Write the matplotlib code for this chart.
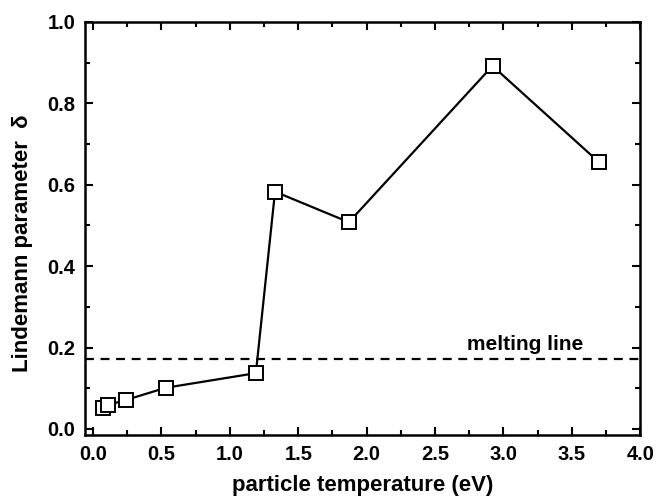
import matplotlib
matplotlib.use("Agg")
import matplotlib.pyplot as plt
from matplotlib.ticker import MultipleLocator

# particle temperature (eV) and Lindemann parameter
temperature = [0.07, 0.11, 0.24, 0.53, 1.19, 1.33, 1.87, 2.92, 3.70]
delta = [0.051, 0.059, 0.071, 0.101, 0.137, 0.583, 0.508, 0.892, 0.655]
melting_delta = 0.172

plt.rcParams["font.family"] = ["Liberation Sans", "DejaVu Sans"]
plt.rcParams["font.weight"] = "bold"

fig = plt.figure(figsize=(6.58, 5.0), dpi=100)
ax = fig.add_axes([0.129, 0.13, 0.844, 0.826])

ax.axhline(melting_delta, color="black", lw=1.6, ls=(0, (4, 3)))
ax.text(3.16, melting_delta + 0.012, "melting line", ha="center", va="bottom",
        fontsize=15, fontweight="bold")

ax.plot(temperature, delta, color="black", lw=1.6, marker="s", ms=9.5,
        mfc="white", mec="black", mew=1.4)

ax.set_xlim(-0.06, 4.0)
ax.set_ylim(-0.015, 1.0)
ax.xaxis.set_major_locator(MultipleLocator(0.5))
ax.xaxis.set_minor_locator(MultipleLocator(0.25))
ax.yaxis.set_major_locator(MultipleLocator(0.2))
ax.yaxis.set_minor_locator(MultipleLocator(0.1))
ax.xaxis.set_major_formatter(lambda v, p: f"{v:.1f}")
ax.yaxis.set_major_formatter(lambda v, p: f"{v:.1f}")

ax.tick_params(which="both", direction="in", top=True, right=True, width=1.5,
               labelsize=14.5)
ax.tick_params(axis="x", pad=7)
ax.tick_params(axis="y", pad=7)
ax.tick_params(which="major", length=6)
ax.tick_params(which="minor", length=3.5)
for lab in ax.get_xticklabels() + ax.get_yticklabels():
    lab.set_fontweight("bold")
for sp in ax.spines.values():
    sp.set_linewidth(1.8)

ax.set_xlabel("particle temperature (eV)", fontsize=16, fontweight="bold")
ax.set_ylabel("Lindemann parameter  \u03b4", fontsize=16, fontweight="bold")
ax.xaxis.set_label_coords(0.5, -0.098)
ax.yaxis.set_label_coords(-0.094, 0.465)

fig.savefig("out.png", dpi=100)
